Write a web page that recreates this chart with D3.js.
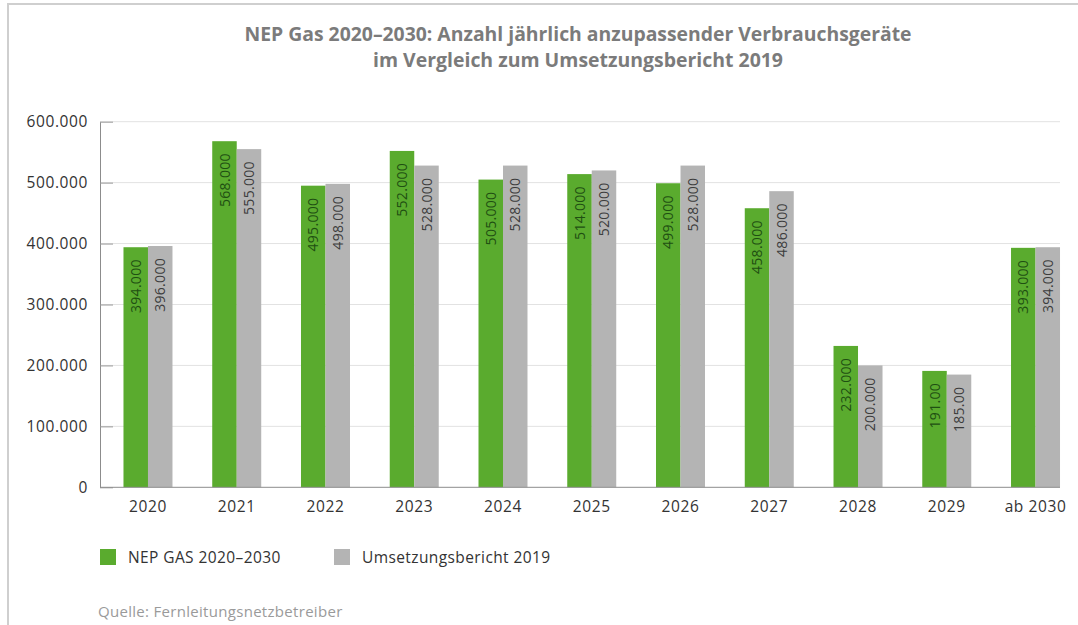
<!DOCTYPE html>
<html>
<head>
<meta charset="utf-8">
<script src="https://cdn.jsdelivr.net/npm/d3@7"></script>
<style>
  html, body { margin: 0; padding: 0; background: #ffffff; }
  svg { display: block; }
</style>
</head>
<body>
<svg id="chart" width="1078" height="625"></svg>
<script>
// ---- data ----
const categories = ["2020", "2021", "2022", "2023", "2024", "2025", "2026", "2027", "2028", "2029", "ab 2030"];
const seriesNames = ["NEP GAS 2020–2030", "Umsetzungsbericht 2019"];
const nepValues = [394000, 568000, 495000, 552000, 505000, 514000, 499000, 458000, 232000, 191000, 393000];
const umsValues = [396000, 555000, 498000, 528000, 528000, 520000, 528000, 486000, 200000, 185000, 394000];
const nepLabels = ["394.000", "568.000", "495.000", "552.000", "505.000", "514.000", "499.000", "458.000", "232.000", "191.00", "393.000"];
const umsLabels = ["396.000", "555.000", "498.000", "528.000", "528.000", "520.000", "528.000", "486.000", "200.000", "185.00", "394.000"];
const yTicks = [0, 100000, 200000, 300000, 400000, 500000, 600000];
const titleLines = ["NEP Gas 2020–2030: Anzahl jährlich anzupassender Verbrauchsgeräte", "im Vergleich zum Umsetzungsbericht 2019"];
const sourceText = "Quelle: Fernleitungsnetzbetreiber";

// ---- setup ----
const svg = d3.select("#chart");
const colors = ["#5aab2e", "#b4b4b4"];
const labelColors = ["#1f4f12", "#3c3c3c"];
const font = "'Open Sans', 'Noto Sans', sans-serif";
const deLocale = d3.formatLocale({ decimal: ",", thousands: ".", grouping: [3], currency: ["", " €"] });
const fmt = deLocale.format(",d");

const plotLeft = 100, plotRight = 1060;
const y = d3.scaleLinear().domain([0, 600000]).range([487.3, 121.7]);
const x = d3.scaleBand().domain(categories).range([103.6, 1079.9]).paddingInner(0.448).paddingOuter(0.224);
const xs = d3.scaleBand().domain([0, 1]).range([0, x.bandwidth()]);

// frame
svg.append("line").attr("x1", 8).attr("x2", 1078).attr("y1", 4).attr("y2", 4)
  .attr("stroke", "#cfcfcf").attr("stroke-width", 2);
svg.append("line").attr("x1", 8).attr("x2", 8).attr("y1", 3).attr("y2", 625)
  .attr("stroke", "#cfcfcf").attr("stroke-width", 2);

// title
const titleG = svg.append("g");
titleG.append("text").attr("x", 578).attr("y", 41).attr("text-anchor", "middle")
  .attr("font-family", font).attr("font-weight", "bold").attr("font-size", 19)
  .attr("fill", "#7b7b7b").attr("textLength", 667).attr("lengthAdjust", "spacingAndGlyphs")
  .text(titleLines[0]);
titleG.append("text").attr("x", 578).attr("y", 67).attr("text-anchor", "middle")
  .attr("font-family", font).attr("font-weight", "bold").attr("font-size", 19)
  .attr("fill", "#7b7b7b").attr("textLength", 410).attr("lengthAdjust", "spacingAndGlyphs")
  .text(titleLines[1]);

// gridlines
svg.append("g").selectAll("line").data(yTicks.filter(d => d > 0)).join("line")
  .attr("x1", plotLeft).attr("x2", plotRight)
  .attr("y1", d => y(d)).attr("y2", d => y(d))
  .attr("stroke", "#e2e2e2").attr("stroke-width", 1);

// y axis
const yAxis = d3.axisLeft(y).tickValues(yTicks).tickFormat(d => fmt(d)).tickSizeInner(-13).tickSizeOuter(0).tickPadding(12);
const yg = svg.append("g").attr("transform", `translate(${plotLeft},0)`).call(yAxis);
yg.select(".domain").attr("stroke", "#8c8c8c");
yg.selectAll(".tick line").attr("stroke", "#9a9a9a");
yg.selectAll(".tick text").attr("font-family", font).attr("font-size", 15.5)
  .attr("fill", "#333").attr("letter-spacing", 0.6).attr("x", -12);

// bars
const groups = svg.append("g").selectAll("g").data(categories).join("g")
  .attr("transform", d => `translate(${x(d)},0)`);
const seriesData = (i) => [
  { s: 0, v: nepValues[i], l: nepLabels[i] },
  { s: 1, v: umsValues[i], l: umsLabels[i] }
];
groups.each(function (c, i) {
  const g = d3.select(this);
  g.selectAll("rect").data(seriesData(i)).join("rect")
    .attr("x", d => xs(d.s)).attr("width", xs.bandwidth())
    .attr("y", d => y(d.v)).attr("height", d => y(0) - y(d.v))
    .attr("fill", d => colors[d.s]);
  g.selectAll("text").data(seriesData(i)).join("text")
    .attr("transform", d => `translate(${xs(d.s) + xs.bandwidth() / 2},${y(d.v) + 12}) rotate(-90)`)
    .attr("text-anchor", "end").attr("dy", "0.36em")
    .attr("font-family", font).attr("font-size", 14).attr("letter-spacing", 0.3)
    .attr("fill", d => labelColors[d.s])
    .text(d => d.l);
});

// x axis
const xAxis = d3.axisBottom(x).tickSize(0).tickPadding(14);
const xg = svg.append("g").attr("transform", `translate(0,${y(0)})`).call(xAxis);
xg.select(".domain").remove();
svg.append("line").attr("x1", plotLeft).attr("x2", plotRight).attr("y1", y(0)).attr("y2", y(0))
  .attr("stroke", "#8c8c8c").attr("stroke-width", 1);
xg.selectAll(".tick text").attr("font-family", font).attr("font-size", 15.5)
  .attr("fill", "#333").attr("letter-spacing", 0.6);

// legend
const legendX = [100, 334];
const leg = svg.append("g").selectAll("g").data(seriesNames).join("g")
  .attr("transform", (d, i) => `translate(${legendX[i]},549)`);
leg.append("rect").attr("width", 16).attr("height", 16).attr("fill", (d, i) => colors[i]);
leg.append("text").attr("x", 28).attr("y", 14).attr("font-family", font).attr("font-size", 15.5)
  .attr("fill", "#333").attr("letter-spacing", 0.4).text(d => d);

// source
svg.append("text").attr("x", 98).attr("y", 617).attr("font-family", font).attr("font-size", 15)
  .attr("fill", "#9a9a9a").attr("letter-spacing", 0.3).text(sourceText);
</script>
</body>
</html>
